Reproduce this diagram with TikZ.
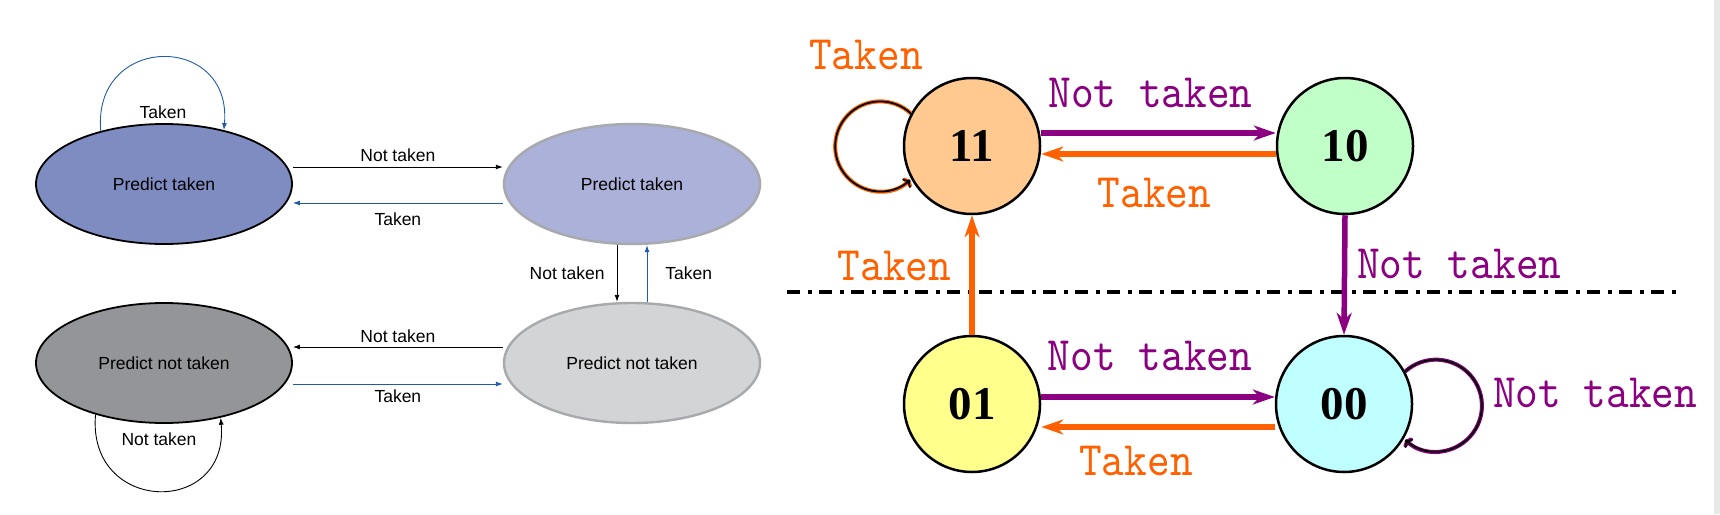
\documentclass[tikz,border=0pt]{standalone}
\usepackage{fontspec}
\setmainfont{Liberation Sans}
\newfontfamily\digitfont{Liberation Serif}
\newfontfamily\monofont[FakeStretch=0.9]{lmmono10-regular.otf}
\usetikzlibrary{shapes.geometric,arrows.meta}

\definecolor{ptdark}{HTML}{7F8CC1}
\definecolor{ptlight}{HTML}{ABB1D8}
\definecolor{pndark}{HTML}{939598}
\definecolor{pnlight}{HTML}{D3D4D6}
\definecolor{rimgray}{HTML}{A7A9AC}
\definecolor{tkblue}{HTML}{1F5CA6}
\definecolor{tkorange}{HTML}{FF6000}
\definecolor{ntpurple}{HTML}{8B0080}
\definecolor{fillA}{HTML}{FFC98F}
\definecolor{fillB}{HTML}{C0FFC8}
\definecolor{fillC}{HTML}{FFFF8C}
\definecolor{fillD}{HTML}{BFFFFF}

\begin{document}
\begin{tikzpicture}[x=1pt,y=-1pt,
    lab/.style={inner sep=0pt,font=\fontsize{17.5}{20}\selectfont},
    big/.style={inner sep=0pt,font=\monofont\fontsize{48}{48}\selectfont},
    selfloop/.style={line width=1.8pt,-{To[length=6pt,width=12pt]}}]

    \useasboundingbox (0,0) rectangle (1720,514);
    \fill[black!9] (1714,0) rectangle (1720,514);

    % left: ellipse states
    \begin{scope}[every node/.style={ellipse,draw,line width=1.8pt,minimum width=256pt,minimum height=120pt,inner sep=0pt,font=\fontsize{17.5}{20}\selectfont}]
        \node[fill=ptdark] (A) at (164,184) {Predict taken};
        \node[fill=ptlight,draw=rimgray,line width=2.4pt] (B) at (632,184) {Predict taken};
        \node[fill=pndark] (C) at (164,363) {Predict not taken};
        \node[fill=pnlight,draw=rimgray,line width=2.4pt] (D) at (632,363) {Predict not taken};
    \end{scope}
    \begin{scope}[every path/.style={-{Latex[length=7pt,width=5pt]},line width=0.9pt}]
        \draw[tkblue] (A.140) .. controls +(95:98pt) and +(85:98pt) .. (A.42);
        \node[lab] (a1) at (163,112) {Taken};
        \path ([yshift=17pt]A.east) edge node[lab,midway,above=4.5pt] (a2) {Not taken} ([yshift=17pt]B.west);
        \path ([yshift=-19pt]B.west) edge[draw=tkblue] node[lab,midway,below=9pt] (a3) {Taken} ([yshift=-19pt]A.east);
        \path ([xshift=-15pt]B.south) edge node[lab,midway,left=12pt] (a4) {Not taken} ([xshift=-15pt]D.north);
        \path ([xshift=15pt]D.north) edge[draw=tkblue] node[lab,midway,right=18pt] (a5) {Taken} ([xshift=15pt]B.south);
        \path ([yshift=16pt]D.west) edge node[lab,midway,above=3.5pt] (a6) {Not taken} ([yshift=16pt]C.east);
        \path ([yshift=-21pt]C.east) edge[draw=tkblue] node[lab,midway,below=5.5pt] (a7) {Taken} ([yshift=-21pt]D.west);
        \draw (C.217) .. controls +(265:100pt) and +(275:100pt) .. (C.316);
        \node[lab] (a8) at (159,439) {Not taken};
    \end{scope}

    % right: two-bit counter
    \draw[line width=3.5pt,dash pattern=on 13pt off 7.5pt on 4pt off 7.5pt] (787,292) -- (1682,292);
    \begin{scope}[every node/.style={circle,draw,line width=2.5pt,minimum size=136pt,inner sep=0pt,font=\digitfont\bfseries\fontsize{47}{47}\selectfont}]
        \node[fill=fillA] (E) at (972,146) {11};
        \node[fill=fillB] (F) at (1345,146) {10};
        \node[fill=fillC] (G) at (972,404) {01};
        \node[fill=fillD] (H) at (1344,404) {00};
    \end{scope}
    \begin{scope}[every path/.style={line width=5.5pt,-{Stealth[length=22pt,width=15pt,inset=7pt]}}]
        \path ([yshift=13pt]E.east) edge[draw=ntpurple] node[big,text=ntpurple,midway,above=22pt,xshift=-8pt] (b1) {Not taken} ([yshift=13pt]F.west);
        \path ([yshift=-8pt]F.west) edge[draw=tkorange] node[big,text=tkorange,midway,below=21pt,xshift=-4pt] (b2) {Taken} ([yshift=-8pt]E.east);
        \path (G.north) edge[draw=tkorange] node[big,text=tkorange,midway,left=18pt,yshift=9pt] (b3) {Taken} (E.south);
        \path (F.south) edge[draw=ntpurple] node[big,text=ntpurple,midway,right=10pt,yshift=11pt] (b4) {Not taken} (H.north);
        \path ([yshift=7pt]G.east) edge[draw=ntpurple] node[big,text=ntpurple,midway,above=23pt,xshift=-8pt] (b5) {Not taken} ([yshift=7pt]H.west);
        \path ([yshift=-23pt]H.west) edge[draw=tkorange] node[big,text=tkorange,midway,below=16pt,xshift=-22pt] (b6) {Taken} ([yshift=-23pt]G.east);
    \end{scope}
    \draw[selfloop,preaction={draw=tkorange,line width=4pt}] (E.152) arc[start angle=47,end angle=312,radius=45pt];
    \node[big,text=tkorange] (b7) at (866,55) {Taken};
    \draw[selfloop,preaction={draw=ntpurple,line width=4pt}] (H.28) arc[start angle=132,end angle=-132,radius=46pt];
    \node[big,text=ntpurple,anchor=west] (b8) at (1493,393) {Not taken};
\end{tikzpicture}
\end{document}
